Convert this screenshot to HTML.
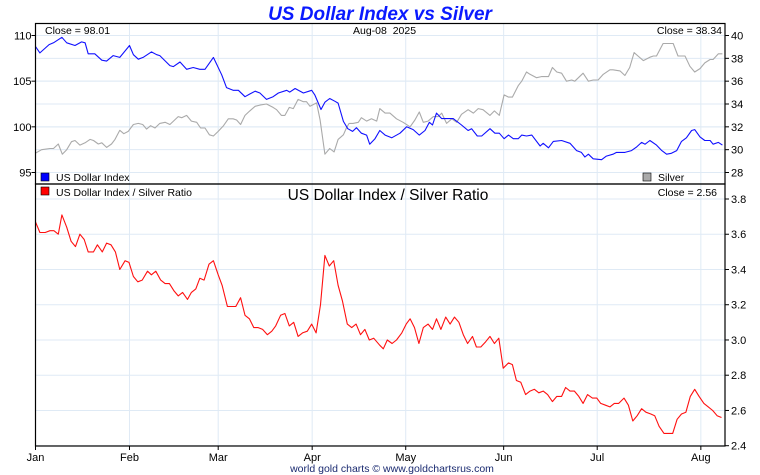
<!DOCTYPE html>
<html><head><meta charset="utf-8">
<style>
html,body{margin:0;padding:0;background:#fff;}
svg{display:block;font-family:"Liberation Sans",sans-serif;}
</style></head>
<body>
<svg id="chart" width="760" height="475" viewBox="0 0 760 475" xmlns="http://www.w3.org/2000/svg">
<rect x="0" y="0" width="760" height="475" fill="#fff"/>
<text x="380" y="20" text-anchor="middle" font-size="19" font-weight="bold" font-style="italic" fill="#0a1aff">US Dollar Index vs Silver</text>
<g id="grid"></g>
<g id="series"></g>
<g id="axes"></g>
<text x="45" y="34" font-size="10.5" fill="#000">Close = 98.01</text>
<text x="353" y="34" font-size="10.5" fill="#000">Aug-08&#160; 2025</text>
<text x="722" y="34" text-anchor="end" font-size="10.5" fill="#000">Close = 38.34</text>
<g>
<rect x="41" y="173" width="8" height="8" fill="#0000ff" stroke="#000" stroke-width="0.6"/>
<text x="56" y="181" font-size="10.5">US Dollar Index</text></g>
<g>
<rect x="643" y="173" width="8" height="8" fill="#aaaaaa" stroke="#000" stroke-width="0.6"/>
<text x="658" y="181" font-size="10.5">Silver</text></g>
<g>
<rect x="41" y="187" width="8" height="8" fill="#ff0000" stroke="#000" stroke-width="0.6"/>
<text x="56" y="196" font-size="10.5">US Dollar Index / Silver Ratio</text></g>
<text x="388" y="200" text-anchor="middle" font-size="15.5" fill="#000">US Dollar Index / Silver Ratio</text>
<text x="717" y="196" text-anchor="end" font-size="10.5" fill="#000">Close = 2.56</text>
<text x="392" y="472" text-anchor="middle" font-size="10.5" fill="#1a2a70">world gold charts © www.goldchartsrus.com</text>
</svg>
<script>
const monthLabels=["Jan","Feb","Mar","Apr","May","Jun","Jul","Aug"];
const monthT=[0,21.4,41.6,63.0,84.3,106.6,127.9,151.5];
const dxyTicks=[110,105,100,95];
const silverTicks=[40,38,36,34,32,30,28];
const ratioTicks=[3.8,3.6,3.4,3.2,3.0,2.8,2.6,2.4];
const dxyT=[0,1.0,3.1,4.1,6.0,7.1,9.0,10.5,11.3,12.0,13.5,15.1,16.2,17.7,19.2,21.4,22.3,23.4,24.5,26.4,27.6,28.3,30.6,31.4,32.9,34.4,35.9,37.4,38.6,40.5,42.4,43.5,45.0,46.2,47.7,48.8,50.0,51.1,52.6,54.1,55.3,57.2,57.9,59.1,61.0,62.9,63.6,65.0,65.9,67.0,68.2,68.9,70.1,71.1,72.2,73.1,74.2,75.4,76.1,77.3,78.4,
79.6,81.1,83.0,84.5,86.0,87.4,88.7,89.7,90.4,91.3,92.5,93.6,95.1,97.0,98.5,99.3,100.6,101.6,103.5,104.6,105.6,106.7,107.7,108.8,109.9,110.7,111.8,113.0,114.9,115.6,116.8,117.9,119.8,121.7,123.2,124.3,125.1,125.9,127.0,128.9,130.0,131.5,132.3,134.2,135.7,136.9,138.0,138.8,139.9,141.4,142.6,143.7,144.8,146.0,147.1,148.2,149.4,150.1,151.3,152.4,153.6,154.3,155.5,156.4];
const dxyV=[108.8,108.1,109.0,109.2,109.8,109.2,108.9,109.3,109.2,108.0,108.0,107.3,107.2,107.8,107.6,108.9,107.9,107.4,107.6,108.2,107.9,107.8,106.7,106.6,107.1,106.3,106.5,106.3,106.3,107.6,105.7,104.3,104.0,104.0,103.3,103.6,103.9,103.7,103.0,103.3,103.7,104.0,103.8,104.2,103.7,104.0,103.5,101.9,102.7,103.1,102.8,102.6,100.6,99.8,99.5,99.9,99.3,99.1,98.1,98.7,99.6,
99.1,98.8,99.3,100.0,99.7,99.1,99.6,100.5,100.2,101.5,100.9,100.9,100.9,100.2,99.6,99.8,99.0,99.0,99.8,99.3,99.3,98.7,99.1,98.7,98.7,99.1,99.0,99.1,97.9,98.2,97.7,98.4,98.5,98.2,97.4,97.2,96.7,97.0,96.5,96.4,96.8,97.0,97.2,97.2,97.4,97.8,98.3,98.1,98.5,98.0,97.4,97.0,97.1,97.4,98.4,98.8,99.6,99.7,98.9,98.5,98.5,98.1,98.3,98.0];
const silverT=[0,1.4,3.3,4.1,5.2,6.1,7.1,8.2,9.0,10.1,11.3,12.4,13.2,14.3,15.1,16.2,17.3,18.1,19.2,20.1,21.1,22.3,23.4,24.4,25.3,26.2,27.2,28.3,29.5,30.6,32.5,33.3,34.4,35.5,36.7,37.6,38.6,39.6,40.5,41.6,42.8,43.9,45.0,45.8,46.7,47.7,48.8,50.0,51.1,52.6,54.1,54.9,56.0,56.8,57.8,58.7,59.8,61.0,61.7,62.5,64.0,64.8,65.9,67.0,68.0,68.9,70.1,70.8,71.4,72.3,73.5,74.2,75.4,76.5,77.7,78.4,
79.6,80.7,82.2,83.7,85.3,86.4,87.4,88.3,89.4,90.6,91.7,92.5,93.6,94.8,95.9,97.0,98.5,99.7,100.8,101.9,103.5,104.5,105.6,106.7,107.7,108.6,109.9,110.7,111.8,112.6,114.1,115.2,116.8,117.7,118.7,119.8,120.9,122.1,122.8,124.7,125.9,127.0,128.1,129.3,130.8,131.5,133.1,134.2,135.3,136.3,137.2,138.4,139.9,140.7,141.4,142.9,144.1,145.2,146.3,147.9,149.0,150.1,151.3,152.4,153.6,154.3,155.5,156.4];
const silverV=[29.7,30.0,30.1,30.1,30.5,29.6,30.0,30.7,30.8,30.4,30.6,30.9,30.8,30.5,30.6,30.2,30.5,30.9,31.7,31.4,31.6,32.2,32.3,32.2,31.8,32.1,31.9,32.3,32.4,32.2,32.9,32.8,33.0,32.5,32.4,31.9,31.9,31.3,31.2,31.6,32.1,32.7,32.7,32.6,32.2,33.0,33.4,33.8,33.9,34.0,33.7,33.5,33.0,33.0,33.7,33.6,34.4,34.2,34.2,33.8,34.1,32.6,29.6,30.1,29.8,30.9,31.3,31.9,32.3,32.3,32.4,32.8,32.5,32.7,32.5,33.6,
33.2,33.2,32.7,32.4,32.0,32.6,33.3,32.4,32.5,32.9,32.9,33.2,32.3,32.7,32.4,33.1,33.5,33.2,33.6,33.5,33.0,33.4,33.0,34.8,34.6,34.6,35.6,36.0,36.8,36.6,36.3,36.4,36.4,37.2,36.8,36.7,36.0,36.1,36.0,36.7,36.0,36.1,36.1,36.6,37.0,37.0,36.9,36.5,37.2,38.5,38.2,37.8,38.1,38.2,38.2,39.3,39.3,39.3,38.2,38.2,37.3,36.8,37.1,37.6,37.9,37.9,38.4,38.4];
const ratioT=[0,1.0,2.2,3.3,4.2,5.2,6.0,7.1,8.1,9.1,10.1,11.1,12.0,13.2,14.1,15.2,16.2,17.2,18.2,19.2,20.4,21.3,22.3,23.3,24.3,25.5,26.4,27.4,28.5,29.5,30.5,31.5,32.5,33.5,34.6,35.5,36.5,37.4,38.4,39.5,40.5,41.6,42.5,43.7,44.6,45.6,46.7,47.7,48.7,49.7,50.7,51.7,52.8,53.8,54.7,55.8,56.8,57.8,58.8,59.8,60.8,61.9,62.9,63.9,64.9,65.9,66.9,67.9,68.9,69.9,71.0,72.0,73.0,74.0,75.0,76.0,77.0,78.4,
79.2,80.1,81.2,82.2,83.4,84.4,85.3,86.3,87.3,88.3,89.4,90.4,91.3,92.3,93.4,94.4,95.4,96.4,97.4,98.4,99.5,100.4,101.4,102.5,103.5,104.5,105.5,106.5,107.7,108.6,109.5,110.5,111.6,112.6,113.6,114.6,115.6,116.6,117.7,118.7,119.8,120.7,121.7,122.7,123.7,124.7,125.7,126.8,127.8,128.7,129.8,130.8,131.8,132.8,134.0,135.0,136.0,137.0,138.0,139.0,140.1,141.0,142.0,143.1,144.1,145.1,146.1,147.1,148.1,149.1,150.1,151.1,152.2,153.2,154.2,155.2,156.2];
const ratioV=[3.67,3.61,3.61,3.62,3.62,3.60,3.71,3.64,3.56,3.53,3.60,3.57,3.50,3.50,3.54,3.50,3.55,3.54,3.50,3.40,3.45,3.44,3.36,3.33,3.34,3.39,3.37,3.39,3.34,3.32,3.32,3.28,3.25,3.27,3.23,3.27,3.29,3.35,3.34,3.43,3.45,3.37,3.31,3.19,3.19,3.19,3.24,3.14,3.12,3.07,3.07,3.06,3.03,3.05,3.08,3.14,3.15,3.08,3.10,3.02,3.04,3.05,3.09,3.04,3.20,3.48,3.42,3.45,3.31,3.22,3.09,3.07,3.09,3.03,3.06,3.00,3.01,2.97,
2.95,3.00,2.98,3.00,3.04,3.09,3.12,3.07,2.98,3.07,3.09,3.06,3.12,3.06,3.13,3.09,3.13,3.10,3.03,2.98,3.02,2.96,2.96,2.99,3.02,2.98,3.01,2.84,2.87,2.86,2.77,2.76,2.69,2.71,2.72,2.70,2.71,2.69,2.65,2.68,2.68,2.73,2.71,2.71,2.68,2.64,2.69,2.67,2.67,2.64,2.63,2.62,2.64,2.64,2.67,2.63,2.54,2.57,2.61,2.59,2.58,2.57,2.51,2.47,2.47,2.47,2.55,2.58,2.59,2.68,2.72,2.68,2.64,2.62,2.60,2.57,2.56];

const L=35.5,R=725,T1=23.5,B1=184,B2=446;
const tMax=157;
function xS(t){return L+(t/tMax)*(R-L);}
function yDxy(v){return 35.5+(110-v)*(137/15);}
function ySil(v){return 35.5+(40-v)*(137/12);}
function yRat(v){return 199+(3.8-v)*(246.7/1.4);}
const NS="http://www.w3.org/2000/svg";
function mk(tag,attrs,parent){const e=document.createElementNS(NS,tag);for(const k in attrs)e.setAttribute(k,attrs[k]);parent.appendChild(e);return e;}
const grid=document.getElementById('grid'),ser=document.getElementById('series'),ax=document.getElementById('axes');
const gc="#dfeaf5";
monthT.forEach((t,i)=>{
  const x=xS(t);
  if(i>0){
    const g=mk('line',{x1:x,x2:x,y1:T1,y2:B2,stroke:gc,'stroke-width':1},grid);
    
    
  }
  const tk=mk('line',{x1:x,x2:x,y1:B2,y2:B2+4,stroke:'#000','stroke-width':1},ax);
  
  
  const lb=mk('text',{x:x,y:B2+15,'text-anchor':'middle','font-size':11},ax);
  lb.textContent=monthLabels[i];
  
  
});
dxyTicks.forEach(v=>{
  const y=yDxy(v);
  const g=mk('line',{x1:L,x2:R,y1:y,y2:y,stroke:gc,'stroke-width':1},grid);
  
  
  mk('line',{x1:L-4,x2:L,y1:y,y2:y,stroke:'#000'},ax);
  const lb=mk('text',{x:L-4,y:y+4,'text-anchor':'end','font-size':11},ax);
  lb.textContent=v;
  
  
});
silverTicks.forEach(v=>{
  const y=ySil(v);
  const g=mk('line',{x1:L,x2:R,y1:y,y2:y,stroke:gc,'stroke-width':1},grid);
  
  
  mk('line',{x1:R,x2:R+4,y1:y,y2:y,stroke:'#000'},ax);
  const lb=mk('text',{x:R+6,y:y+4,'font-size':11},ax);
  lb.textContent=v;
  
  
});
ratioTicks.forEach(v=>{
  const y=yRat(v);
  const g=mk('line',{x1:L,x2:R,y1:y,y2:y,stroke:gc,'stroke-width':1},grid);
  
  
  mk('line',{x1:R,x2:R+4,y1:y,y2:y,stroke:'#000'},ax);
  const lb=mk('text',{x:R+6,y:y+4,'font-size':11},ax);
  lb.textContent=v.toFixed(1);
  
  
});
function line(ts,vs,yf,color,name){
  const d=ts.map((t,i)=>(i?'L':'M')+xS(t).toFixed(1)+','+yf(vs[i]).toFixed(1)).join(' ');
  const p=mk('path',{d:d,fill:'none',stroke:color,'stroke-width':1.1,'stroke-linejoin':'round'},ser);
  
  
}
line(silverT,silverV,ySil,'#aaaaaa','silver-line');
line(dxyT,dxyV,yDxy,'#1010ff','dxy-line');
line(ratioT,ratioV,yRat,'#ff1010','ratio-line');
const f1=mk('rect',{x:L,y:T1,width:R-L,height:B1-T1,fill:'none',stroke:'#000','stroke-width':1.2},ax);


const f2=mk('rect',{x:L,y:B1,width:R-L,height:B2-B1,fill:'none',stroke:'#000','stroke-width':1.2},ax);


</script>
</body></html>
